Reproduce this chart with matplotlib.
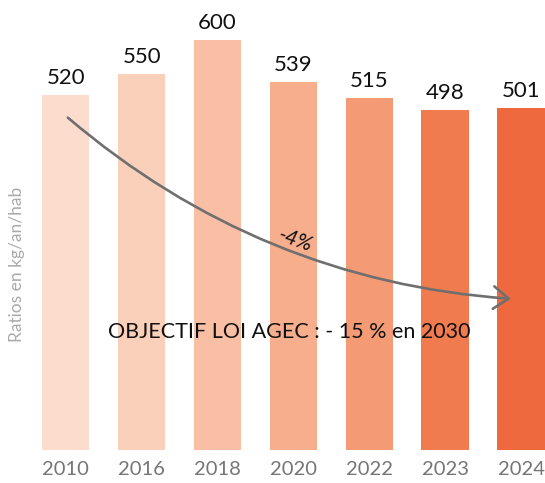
import matplotlib
matplotlib.use("Agg")
import matplotlib.pyplot as plt
from matplotlib.patches import FancyArrowPatch

plt.rcParams['font.family'] = ['Lato', 'DejaVu Sans']

years = ['2010', '2016', '2018', '2020', '2022', '2023', '2024']
ratios = [520, 550, 600, 539, 515, 498, 501]
colors = ['#FCDCCD', '#FBD0BA', '#F9BFA5', '#F7AE8D', '#F49A74', '#F07B4F', '#EE693D']

fig = plt.figure(figsize=(5.45, 4.83), dpi=100)
ax = fig.add_axes([0, 33 / 483, 1, 450 / 483])

x = list(range(len(years)))
bars = ax.bar(x, ratios, width=0.626, color=colors)
for xi, v in zip(x, ratios):
    ax.annotate(str(v), (xi, v), xytext=(0, 8), textcoords='offset points',
                ha='center', va='baseline', fontsize=16, color='#111111')

ax.set_xlim(-0.866, 6.315)
ax.set_ylim(0, 658.5)
ax.set_xticks(x)
ax.set_xticklabels(years, fontsize=14.5, color='#757575')
ax.tick_params(axis='x', length=0, pad=8)
ax.set_yticks([])
for s in ax.spines.values():
    s.set_visible(False)

fig.text(17 / 545, 1 - 264 / 483, 'Ratios en kg/an/hab', rotation=90,
         ha='center', va='center', fontsize=12.5, color='#AAAAAA')

arrow = FancyArrowPatch((0, 489), (5.9, 221), connectionstyle='arc3,rad=0.166',
                        arrowstyle='->,head_length=0.6,head_width=0.45',
                        mutation_scale=18, color='#6F6F6F', lw=1.9)
ax.add_patch(arrow)

ax.text(3.02, 307, '-4%', style='italic', fontsize=15, rotation=-20,
        ha='center', va='center', color='#111111')
ax.text(2.94, 172, 'OBJECTIF LOI AGEC : - 15 % en 2030', fontsize=15.5,
        ha='center', va='center', color='#111111')

fig.savefig('out.png', dpi=100)
